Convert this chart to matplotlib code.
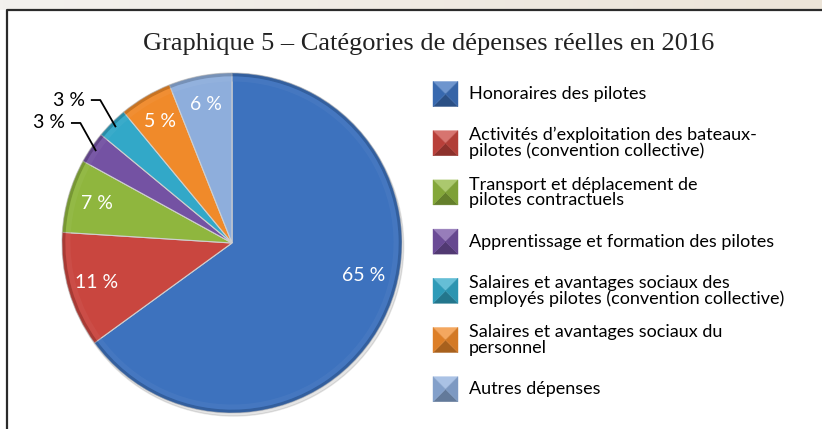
import numpy as np
import matplotlib.pyplot as plt
from matplotlib.patches import Wedge, Polygon, Circle
from matplotlib.colors import to_rgb, LinearSegmentedColormap

# data
title = 'Graphique 5 – Catégories de dépenses réelles en 2016'
categories = ['Honoraires des pilotes',
              'Activités d’exploitation des bateaux-\npilotes (convention collective)',
              'Transport et déplacement de\npilotes contractuels',
              'Apprentissage et formation des pilotes',
              'Salaires et avantages sociaux des\nemployés pilotes (convention collective)',
              'Salaires et avantages sociaux du\npersonnel',
              'Autres dépenses']
values = [65, 11, 7, 3, 3, 5, 6]
colors = ['#3d72be', '#c9463f', '#8fb63e', '#7452a3', '#32a8c8', '#f08a2a', '#8eaedc']

W, H = 822, 429


def shade(c, f):
    c = np.array(to_rgb(c))
    if f > 0:
        return tuple(c + (1 - c) * f)
    return tuple(c * (1 + f))


fig = plt.figure(figsize=(W / 100, H / 100), dpi=100)
fig.patch.set_facecolor('white')

# background / frame axes in pixel coords
bg = fig.add_axes([0, 0, 1, 1])
strip = LinearSegmentedColormap.from_list('strip', ['#f3f1ee', '#ece4d8'])
bg.imshow(np.linspace(0, 1, 256)[None, :], extent=(0, W, 10, 0), aspect='auto', cmap=strip)
bg.fill_between([0, 7], 10, H, color='white')
bg.plot([7, 7, W + 5], [H + 5, 10, 10], color='#2b2b2b', lw=1.6, solid_capstyle='butt')
bg.set_xlim(0, W)
bg.set_ylim(H, 0)
bg.axis('off')

bg.text(429, 44, title, ha='center', va='center', fontsize=19,
        family='Liberation Serif', color='#222222')

# legend with bevelled squares
font = 'Lato'
for i, (lab, col) in enumerate(zip(categories, colors)):
    yc = 94 + i * 49.2
    x0, x1, y0, y1 = 433, 458, yc - 12.5, yc + 12.5
    xm = (x0 + x1) / 2
    tris = [([(x0, y0), (x1, y0), (xm, yc)], shade(col, 0.25)),
            ([(x0, y1), (x1, y1), (xm, yc)], shade(col, -0.3)),
            ([(x0, y0), (x0, y1), (xm, yc)], shade(col, -0.08)),
            ([(x1, y0), (x1, y1), (xm, yc)], shade(col, -0.12))]
    for pts, c in tris:
        bg.add_patch(Polygon(pts, closed=True, facecolor=c, edgecolor=c, lw=0.3))
    bg.text(469, yc, lab, ha='left', va='center', fontsize=13, family=font,
            color='black', linespacing=0.95)

# pie
cx, cy, r = 232, 243, 170
pax = fig.add_axes([(cx - r) / W, (H - cy - r) / H, 2 * r / W, 2 * r / H])
pax.patch.set_alpha(0)

pax.add_patch(Circle((0.01, -0.018), 1.0, color='#000000', alpha=0.10, clip_on=False, zorder=0))

wedges, texts, autotexts = pax.pie(
    values, colors=colors, startangle=90, counterclock=False,
    autopct=lambda p: f'{p:.0f} %' if p > 4 else '', pctdistance=0.83,
    wedgeprops=dict(edgecolor='#cfcfcf', linewidth=0.8),
    textprops=dict(color='white', fontsize=14, family=font))

# bevel rim
for w, c in zip(wedges, colors):
    pax.add_patch(Wedge((0, 0), 1.0, w.theta1, w.theta2, width=0.02,
                        facecolor=shade(c, -0.3), edgecolor='none', alpha=0.55))
    pax.add_patch(Wedge((0, 0), 0.98, w.theta1, w.theta2, width=0.03,
                        facecolor=shade(c, 0.12), edgecolor='none', alpha=0.35))

# Excel "best fit" moves the big label
a = np.deg2rad(-14)
autotexts[0].set_position((0.8 * np.cos(a), 0.8 * np.sin(a)))

# small slices get outside labels with leader lines
out_xy = {3: (-0.982, 0.706), 4: (-0.865, 0.841)}
for i, (tx, ty) in out_xy.items():
    w = wedges[i]
    ang = np.deg2rad((w.theta1 + w.theta2) / 2)
    ex, ey = 0.97 * np.cos(ang), 0.97 * np.sin(ang)
    pax.plot([tx + 0.04, tx + 0.09, ex], [ty, ty, ey], color='black', lw=1.3,
             clip_on=False, zorder=5)
    pax.text(tx, ty, f'{values[i]} %', ha='right', va='center', fontsize=14,
             family=font, color='black')

pax.set_xlim(-1, 1)
pax.set_ylim(-1, 1)

fig.savefig('out.png', dpi=100)
